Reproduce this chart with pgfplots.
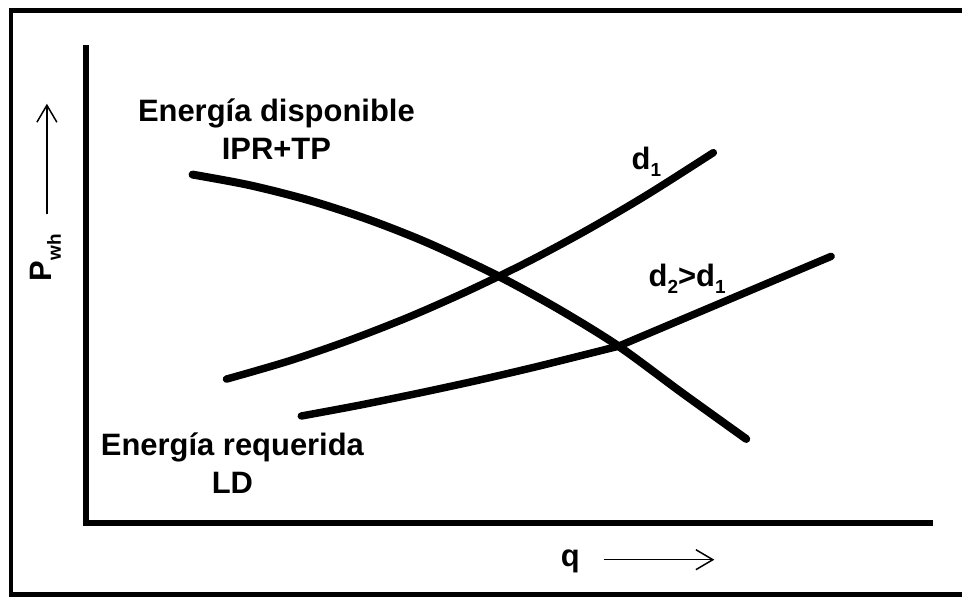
\documentclass[border=0pt]{standalone}
\usepackage{fontspec}
\setmainfont{Liberation Sans}
\usepackage{pgfplots}
\pgfplotsset{compat=1.18}
\usetikzlibrary{arrows.meta}
\tikzset{txt/.style={font=\fontsize{31}{36}\selectfont\bfseries, inner sep=0pt}}
\newcommand\subd[1]{\raisebox{-7pt}{\fontsize{19}{19}\selectfont #1}}
\newcommand\subp[1]{\raisebox{-9pt}{\fontsize{19}{19}\selectfont #1}}
\begin{document}
\begin{tikzpicture}
\begin{axis}[
  scale only axis, width=964pt, height=602pt,
  xmin=0, xmax=964, ymin=0, ymax=602,
  hide axis, clip=false,
  every axis plot/.append style={black, no markers},
]
\addplot[draw=none] coordinates {(0,0)(964,602)};
% frame
\addplot[line width=4.5pt, line join=miter] coordinates {(964,591.5)(11,591.5)(11,6)(964,6)};
% axes
\addplot[line width=5.5pt, line join=miter] coordinates {(86,557)(86,78)(935,78)};
% IPR+TP
\addplot[line width=8pt, smooth, line cap=round] coordinates {
 (193,427)(250,416.4)(310,401.2)(370,381.7)(430,358)(500,325)(560,292.1)(620,255)(684,208)(748,162)};
% d1
\addplot[line width=7.5pt, smooth, line cap=round] coordinates {
 (227,222)(290,240.3)(350,260.9)(410,284.3)(470,310.8)(530,340)(590,372.3)(650,407.6)(715,449)};
% d2
\addplot[line width=7.5pt, smooth, line cap=round] coordinates {
 (302,185)(360,195.8)(420,208)(480,221)(540,235)(620,255)};
\addplot[line width=7.5pt, line cap=round] coordinates {
 (620,255)(700,288.8)(770,318.4)(833,345)};
% arrows
\addplot[line width=1.5pt, -{Straight Barb[length=17pt,width=20pt]}] coordinates {(605,41)(716,41)};
\addplot[line width=1.5pt, -{Straight Barb[length=17pt,width=20pt]}] coordinates {(47,387)(47,498)};
% texts
\node[txt, anchor=base] at (axis cs:277,480) {Energía disponible};
\node[txt, anchor=base] at (axis cs:277,442) {IPR+TP};
\node[txt, anchor=base] at (axis cs:233,145) {Energía requerida};
\node[txt, anchor=base] at (axis cs:233,107) {LD};
\node[txt, anchor=base west] at (axis cs:633,432) {d\subd{1}};
\node[txt, anchor=base west] at (axis cs:650,315) {d\subd{2}>d\subd{1}};
\node[txt, anchor=base west] at (axis cs:562,34) {q};
\node[txt, anchor=base west, rotate=90] at (axis cs:52,320) {P\subp{wh}};
\end{axis}
\end{tikzpicture}
\end{document}
